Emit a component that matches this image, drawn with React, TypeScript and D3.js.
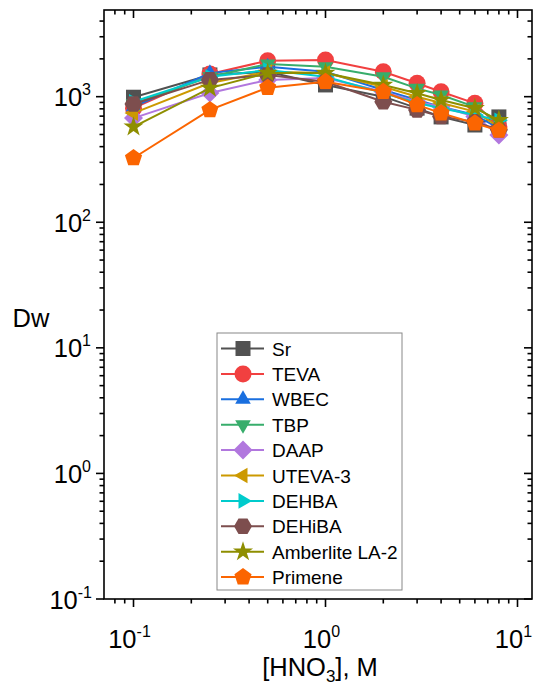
import React from "react";
import * as d3 from "d3";

const xValues = [0.1, 0.25, 0.5, 1, 2, 3, 4, 6, 8];
const seriesNames = ["Sr", "TEVA", "WBEC", "TBP", "DAAP", "UTEVA-3", "DEHBA", "DEHiBA", "Amberlite LA-2", "Primene"];
const Sr = [990, 1490, 1580, 1240, 1000, 810, 690, 595, 690];
const TEVA = [810, 1515, 1935, 1960, 1580, 1280, 1095, 885, 575];
const WBEC = [830, 1540, 1730, 1580, 1130, 940, 830, 715, 560];
const TBP = [880, 1440, 1820, 1730, 1440, 1165, 1030, 830, 630];
const DAAP = [675, 1070, 1360, 1410, 1095, 910, 830, 695, 495];
const UTEVA3 = [740, 1285, 1580, 1545, 1200, 1000, 890, 760, 575];
const DEHBA = [910, 1440, 1630, 1440, 1070, 890, 810, 715, 650];
const DEHiBA = [875, 1360, 1490, 1315, 910, 785, 695, 630, 545];
const Amberlite = [575, 1170, 1545, 1545, 1240, 1065, 940, 810, 650];
const Primene = [325, 785, 1180, 1315, 1095, 860, 740, 615, 537];
const seriesValues = [Sr, TEVA, WBEC, TBP, DAAP, UTEVA3, DEHBA, DEHiBA, Amberlite, Primene];
const colors = ["#515151", "#F14040", "#1A6FDF", "#37AD6B", "#B177DE", "#CC9900", "#00CBCC", "#7D4E4E", "#8E8E00", "#FB6501"];
const markers = ["square", "circle", "up", "down", "diamond", "left", "right", "hexagon", "star", "pentagon"];
const xTickExps = [-1, 0, 1];
const yTickExps = [-1, 0, 1, 2, 3];

const FONT = "'Liberation Sans', Arial, sans-serif";

function poly(n: number, r: number, rot: number) {
  const pts: string[] = [];
  for (let i = 0; i < n; i++) {
    const a = rot + (i * 2 * Math.PI) / n;
    pts.push(`${(r * Math.cos(a)).toFixed(2)},${(r * Math.sin(a)).toFixed(2)}`);
  }
  return "M" + pts.join("L") + "Z";
}

function markerPath(kind: string): string {
  const r = 9;
  switch (kind) {
    case "square":
      return `M${-7.5},${-7.5}H7.5V7.5H-7.5Z`;
    case "circle":
      return d3.symbol(d3.symbolCircle, Math.PI * 8.5 * 8.5)() as string;
    case "up":
      return poly(3, r, -Math.PI / 2);
    case "down":
      return poly(3, r, Math.PI / 2);
    case "diamond":
      return poly(4, r + 0.5, -Math.PI / 2);
    case "left":
      return poly(3, r, Math.PI);
    case "right":
      return poly(3, r, 0);
    case "hexagon":
      return poly(6, r, 0);
    case "star":
      return d3.symbol(d3.symbolStar, 125)() as string;
    case "pentagon":
      return poly(5, r, -Math.PI / 2);
  }
  return "";
}

export default function App() {
  const W = 537, H = 689;
  const left = 104, right = 532, top = 10, bottom = 599;
  const x = d3.scaleLog().domain([0.0702, 11.9]).range([left, right]);
  const y = d3.scaleLog().domain([0.1, 4900]).range([bottom, top]);

  const line = d3.line<number>().x((_, i) => x(xValues[i])).y((v) => y(v));

  const xMinor: number[] = [];
  for (const e of [-2, -1, 0]) for (let k = 2; k <= 9; k++) {
    const v = k * Math.pow(10, e);
    if (v > 0.0702 && v < 11.9) xMinor.push(v);
  }
  const yMinor: number[] = [];
  for (const e of [-1, 0, 1, 2, 3]) for (let k = 2; k <= 9; k++) {
    const v = k * Math.pow(10, e);
    if (v < 4900) yMinor.push(v);
  }

  const sw = 1.6;
  const legX = 217, legY = 333, legW = 185, legH = 257;
  const legRow0 = 348.5, legStep = 25.4;

  return (
    <svg width={W} height={H} style={{ position: "absolute", left: 0, top: 0, background: "#fff" }} fontFamily={FONT}>
      <rect x={0} y={0} width={W} height={H} fill="#fff" />
      {seriesValues.map((vals, s) => (
        <g key={seriesNames[s]}>
          <path d={line(vals) as string} fill="none" stroke={colors[s]} strokeWidth={2} />
          {vals.map((v, i) => (
            <path key={i} d={markerPath(markers[s])} transform={`translate(${x(xValues[i])},${y(v)})`} fill={colors[s]} />
          ))}
        </g>
      ))}
      <rect x={left} y={top} width={right - left} height={bottom - top} fill="none" stroke="#000" strokeWidth={sw} />
      {xTickExps.map((e) => {
        const px = x(Math.pow(10, e));
        return (
          <g key={"xt" + e}>
            <line x1={px} x2={px} y1={bottom} y2={bottom + 8} stroke="#000" strokeWidth={sw} />
            <line x1={px} x2={px} y1={top} y2={top + 8} stroke="#000" strokeWidth={sw} />
            <text x={px - 4} y={648} fontSize={25.5} textAnchor="middle">10<tspan dy={-11} fontSize={16}>{e}</tspan></text>
          </g>
        );
      })}
      {xMinor.map((v, i) => {
        const px = x(v);
        return (
          <g key={"xm" + i}>
            <line x1={px} x2={px} y1={bottom} y2={bottom + 4.5} stroke="#000" strokeWidth={sw} />
            <line x1={px} x2={px} y1={top} y2={top + 4.5} stroke="#000" strokeWidth={sw} />
          </g>
        );
      })}
      {yTickExps.map((e) => {
        const py = y(Math.pow(10, e));
        return (
          <g key={"yt" + e}>
            <line x1={left - 8} x2={left} y1={py} y2={py} stroke="#000" strokeWidth={sw} />
            <line x1={right - 8} x2={right} y1={py} y2={py} stroke="#000" strokeWidth={sw} />
            <text x={e < 0 ? 92 : 91} y={py + 9.5} fontSize={25.5} textAnchor="end">10<tspan dy={-11} fontSize={16}>{e}</tspan></text>
          </g>
        );
      })}
      {yMinor.map((v, i) => {
        const py = y(v);
        return (
          <g key={"ym" + i}>
            <line x1={left - 4.5} x2={left} y1={py} y2={py} stroke="#000" strokeWidth={sw} />
            <line x1={right - 4.5} x2={right} y1={py} y2={py} stroke="#000" strokeWidth={sw} />
          </g>
        );
      })}
      <text x={320} y={676} fontSize={25.5} textAnchor="middle">[HNO<tspan dy={6} fontSize={17}>3</tspan><tspan dy={-6}>], M</tspan></text>
      <text x={31} y={327} fontSize={25.5} textAnchor="middle">Dw</text>
      <rect x={legX} y={legY} width={legW} height={legH} fill="#fff" stroke="#888" strokeWidth={1} />
      {seriesNames.map((name, s) => {
        const ry = legRow0 + s * legStep;
        return (
          <g key={"lg" + s}>
            <line x1={221} x2={264} y1={ry} y2={ry} stroke={colors[s]} strokeWidth={2} />
            <path d={markerPath(markers[s])} transform={`translate(243,${ry})`} fill={colors[s]} />
            <text x={272} y={ry + 7} fontSize={19}>{name}</text>
          </g>
        );
      })}
    </svg>
  );
}
